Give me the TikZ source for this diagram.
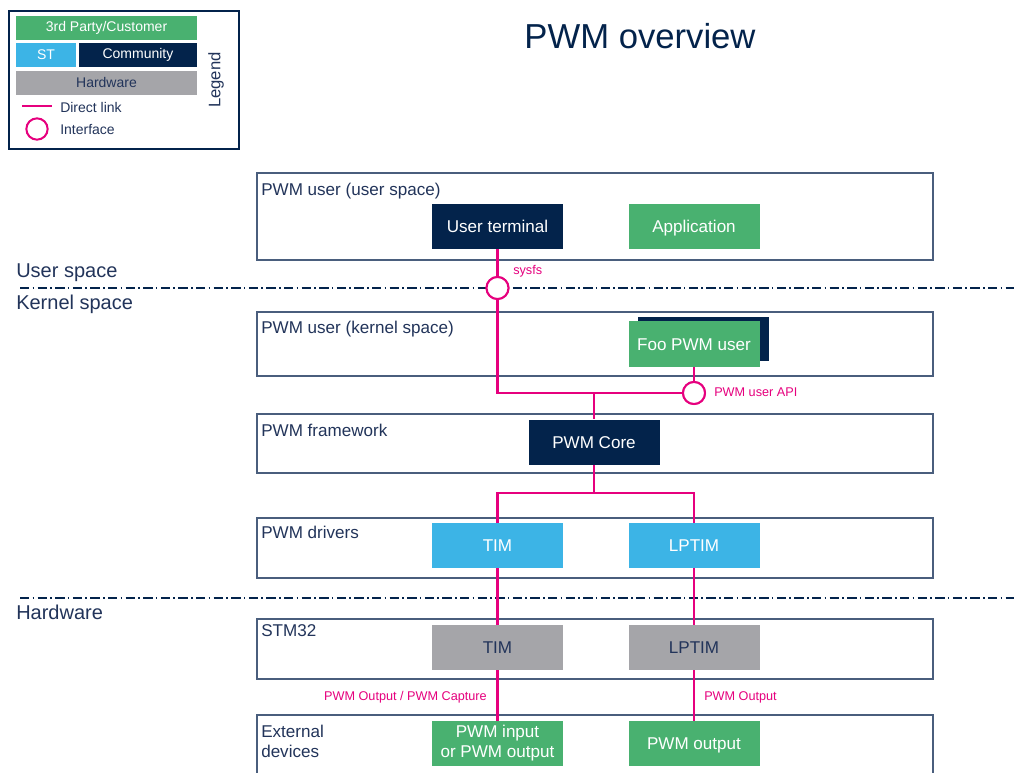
\documentclass[tikz,border=0pt]{standalone}
\usepackage{fontspec}
\setmainfont{Liberation Sans}
\definecolor{navy}{HTML}{03234B}
\definecolor{stgreen}{HTML}{49B170}
\definecolor{stblue}{HTML}{3CB4E6}
\definecolor{hwgray}{HTML}{A5A5A9}
\definecolor{mag}{HTML}{E6007E}
\definecolor{frame}{HTML}{4A5E7D}
\definecolor{txt}{HTML}{22345A}
\begin{document}
\begin{tikzpicture}[x=0.75pt,y=-0.75pt,
  layer/.style={draw=frame, line width=1.3pt, fill=white, anchor=north west, inner sep=0pt},
  box/.style={inner sep=0pt, minimum width=98.25pt, minimum height=33.75pt, text=white,
    font=\fontsize{12.8}{15}\selectfont, align=center, text height=10pt, text depth=0.8pt},
  lab/.style={anchor=base west, inner sep=0pt, text=txt, font=\fontsize{12.8}{15}\selectfont},
  side/.style={anchor=base west, inner sep=0pt, text=txt, font=\fontsize{15}{18}\selectfont},
  link/.style={draw=mag, line width=1.7pt},
  iface/.style={circle, draw=mag, line width=1.5pt, fill=white, minimum size=16.5pt, inner sep=0pt},
  ilab/.style={inner sep=0pt, text=mag, font=\fontsize{9.5}{11}\selectfont},
  sep/.style={draw=navy, line width=1pt, dash pattern=on 7pt off 2.5pt on 1.2pt off 2.5pt},
  legbar/.style={inner sep=0pt, minimum height=18pt, font=\fontsize{10.5}{12}\selectfont},
  legtxt/.style={anchor=west, inner sep=0pt, text=txt, font=\fontsize{10.5}{12}\selectfont}]
\useasboundingbox (0,0) rectangle (1014,772);
\clip (0,0) rectangle (1014,772);
\fill[white] (0,0) rectangle (1014,772);

% Legend
\node[draw=navy, line width=1.3pt, anchor=north west, minimum width=172.5pt, minimum height=103.5pt, inner sep=0pt] (legend) at (8,10) {};
\node[legbar, fill=stgreen, text=white, minimum width=135.75pt] (lg1) at (106.5,27.5) {3rd Party/Customer};
\node[legbar, fill=stblue, text=white, minimum width=45pt] (lg2) at (46,54.5) {ST};
\node[legbar, fill=navy, text=white, minimum width=88.5pt] (lg3) at (138,54.5) {Community};
\node[legbar, fill=hwgray, text=txt, minimum width=135.75pt] (lg4) at (106.5,82.5) {Hardware};
\coordinate (dl1) at (22,106);
\coordinate (dl2) at (52,106);
\draw[link, line width=1.5pt] (dl1) -- (dl2);
\node[legtxt] (lt1) at (60,107) {Direct link};
\node[iface, minimum size=16pt] (lc) at (37,129) {};
\node[legtxt] (lt2) at (60,129) {Interface};
\node[rotate=90, inner sep=0pt, text=txt, font=\fontsize{12.5}{15}\selectfont] (legtitle) at (216,80) {Legend};

% Title
\node[anchor=base, inner sep=0pt, text=navy, font=\fontsize{26}{30}\selectfont] (title) at (640,48) {PWM overview};

% Separators
\coordinate (s1a) at (20,288);
\coordinate (s1b) at (1014,288);
\coordinate (s2a) at (20,598);
\coordinate (s2b) at (1014,598);
\draw[sep] (s1a) -- (s1b);
\draw[sep] (s2a) -- (s2b);
\node[side] (us) at (16,277) {User space};
\node[side] (ks) at (16,309) {Kernel space};
\node[side] (hw) at (16,619) {Hardware};

% Layers
\node[layer, minimum width=507pt, minimum height=65.25pt] (L1) at (256,172) {};
\node[layer, minimum width=507pt, minimum height=48pt] (L2) at (256,311) {};
\node[layer, minimum width=507pt, minimum height=44.25pt] (L3) at (256,413) {};
\node[layer, minimum width=507pt, minimum height=45pt] (L4) at (256,517) {};
\node[layer, minimum width=507pt, minimum height=45pt] (L5) at (256,618) {};
\node[layer, minimum width=507pt, minimum height=60pt] (L6) at (256,714) {};

\node[lab] (l1) at (261,195) {PWM user (user space)};
\node[lab] (l2) at (261,333) {PWM user (kernel space)};
\node[lab] (l3) at (261,436) {PWM framework};
\node[lab] (l4) at (261,538) {PWM drivers};
\node[lab] (l5) at (261,636) {STM32};
\node[lab] (l6) at (261,737) {External};
\node[lab] (l7) at (261,757) {devices};

% Connector junctions and interfaces
\coordinate (j1) at (594,393);
\coordinate (j2) at (594,493);
\node[iface] (sysfs) at (497.5,288) {};
\node[iface] (api) at (694,393) {};

% Boxes
\node[box, fill=navy] (ut) at (497.5,226.5) {User terminal};
\node[box, fill=stgreen] (app) at (694,226.5) {Application};
\node[box, fill=navy, minimum height=33pt] (foob) at (703,339) {};
\node[box, fill=stgreen, minimum height=34.5pt] (foo) at (694,344) {Foo PWM user};
\node[box, fill=navy] (core) at (594,442) {PWM Core};
\node[box, fill=stblue] (timd) at (497.5,545.5) {TIM};
\node[box, fill=stblue] (lptimd) at (694,545.5) {LPTIM};
\node[box, fill=hwgray, text=txt] (timh) at (497.5,647.5) {TIM};
\node[box, fill=hwgray, text=txt] (lptimh) at (694,647.5) {LPTIM};
\node[box, fill=stgreen, text height=, text depth=] (ext1) at (497.5,743.5) {PWM input\\or PWM output};
\node[box, fill=stgreen] (ext2) at (694,743.5) {PWM output};

\draw[link] (ut.south) -- (sysfs.north);
\draw[link] (sysfs.south) |- (api.west);
\draw[link] (foo.south) -- (api.north);
\draw[link] (j1) -- (core.north);
\draw[link] (core.south) -- (j2);
\draw[link] (timd.north) |- (j2) -| (lptimd.north);
\draw[link] (timd.south) -- (timh.north);
\draw[link] (lptimd.south) -- (lptimh.north);
\draw[link] (timh.south) -- (ext1.north);
\draw[link] (lptimh.south) -- (ext2.north);
\node[iface] at (sysfs) {};
\node[iface] at (api) {};

% Interface labels
\node[ilab, anchor=west] (sysfsl) at (513,271) {sysfs};
\node[ilab, anchor=west] (apil) at (714,392) {PWM user API};
\node[ilab, anchor=east] (outl1) at (487,697) {PWM Output / PWM Capture};
\node[ilab, anchor=west] (outl2) at (704,697) {PWM Output};
\end{tikzpicture}
\end{document}
